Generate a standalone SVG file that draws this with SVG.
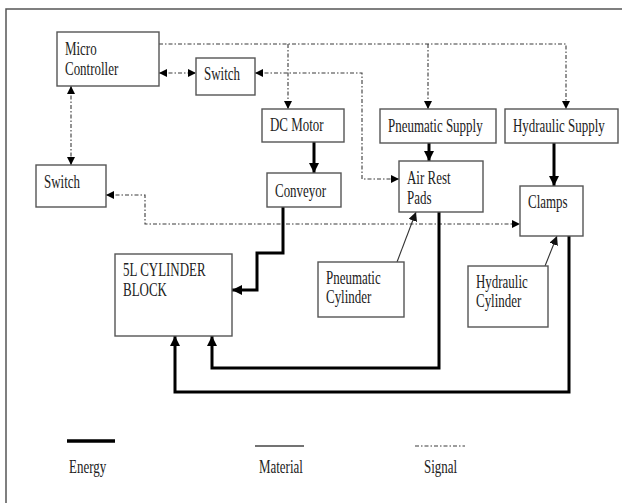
<svg xmlns="http://www.w3.org/2000/svg" width="622" height="503" viewBox="0 0 622 503">
  <style>
    .box { fill: #fff; stroke: #555; stroke-width: 1.4; }
    .lbl { font-family: "Liberation Serif", "Times New Roman", serif; font-size: 18px; fill: #222; }
    .sig { fill: none; stroke: #3a3a3a; stroke-width: 1.1; stroke-dasharray: 4 2 1.5 2; }
    .nrg { fill: none; stroke: #000; stroke-width: 3; }
    .mat { fill: none; stroke: #333; stroke-width: 1.1; }
  </style>
  <defs>
    <marker id="sigEnd" markerUnits="userSpaceOnUse" markerWidth="8" markerHeight="8" viewBox="0 0 10 10" refX="10" refY="5" orient="auto">
      <path d="M0,0 L10,5 L0,10 Z" fill="#000"/>
    </marker>
    <marker id="sigStart" markerUnits="userSpaceOnUse" markerWidth="8" markerHeight="8" viewBox="0 0 10 10" refX="0" refY="5" orient="auto">
      <path d="M10,0 L0,5 L10,10 Z" fill="#000"/>
    </marker>
    <marker id="nrgEnd" markerUnits="userSpaceOnUse" markerWidth="10" markerHeight="10" viewBox="0 0 10 10" refX="10" refY="5" orient="auto">
      <path d="M0,0 L10,5 L0,10 Z" fill="#000"/>
    </marker>
    <marker id="matEnd" markerUnits="userSpaceOnUse" markerWidth="9" markerHeight="9" viewBox="0 0 10 10" refX="10" refY="5" orient="auto">
      <path d="M0,0 L10,5 L0,10 Z" fill="#111"/>
    </marker>
  </defs>

  <rect width="622" height="503" fill="#fff"/>
  <!-- page frame -->
  <path d="M6,503 V9 H622" fill="none" stroke="#555" stroke-width="1.5"/>

  <!-- connectors -->
  <g id="connectors">
    <!-- signal -->
    <path class="sig" d="M159,44 H566 V109" marker-end="url(#sigEnd)"/>
    <path class="sig" d="M288,44 V109" marker-end="url(#sigEnd)"/>
    <path class="sig" d="M428,44 V109" marker-end="url(#sigEnd)"/>
    <path class="sig" d="M159,73 H196" marker-start="url(#sigStart)" marker-end="url(#sigEnd)"/>
    <path class="sig" d="M255,73 H362 V179 H399" marker-start="url(#sigStart)" marker-end="url(#sigEnd)"/>
    <path class="sig" d="M71,86 V165" marker-start="url(#sigStart)" marker-end="url(#sigEnd)"/>
    <path class="sig" d="M106,195 H145 V224 H520" marker-start="url(#sigStart)" marker-end="url(#sigEnd)"/>
    <!-- energy -->
    <path class="nrg" d="M314,142 V173" marker-end="url(#nrgEnd)"/>
    <path class="nrg" d="M429,143 V161" marker-end="url(#nrgEnd)"/>
    <path class="nrg" d="M554,143 V186" marker-end="url(#nrgEnd)"/>
    <path class="nrg" d="M283,207 V253 H257 V290 H232" marker-end="url(#nrgEnd)"/>
    <path class="nrg" d="M439,212 V368 H212 V336" marker-end="url(#nrgEnd)"/>
    <path class="nrg" d="M569,236 V392 H175 V336" marker-end="url(#nrgEnd)"/>
    <!-- material -->
    <path class="mat" d="M397,262 L416,212" marker-end="url(#matEnd)"/>
    <path class="mat" d="M545,266 L557,236" marker-end="url(#matEnd)"/>
  </g>

  <g id="micro-controller">
    <rect class="box" x="57" y="32" width="102" height="54"/>
    <text class="lbl" transform="translate(65,55) scale(0.72,1)">Micro</text>
    <text class="lbl" transform="translate(65,75) scale(0.72,1)">Controller</text>
  </g>
  <g id="switch-top">
    <rect class="box" x="196" y="58" width="59" height="37"/>
    <text class="lbl" transform="translate(204,80) scale(0.72,1)">Switch</text>
  </g>
  <g id="dc-motor">
    <rect class="box" x="262" y="109" width="82" height="33"/>
    <text class="lbl" transform="translate(270,131) scale(0.72,1)">DC Motor</text>
  </g>
  <g id="conveyor">
    <rect class="box" x="267" y="173" width="74" height="34"/>
    <text class="lbl" transform="translate(275,197) scale(0.72,1)">Conveyor</text>
  </g>
  <g id="switch-left">
    <rect class="box" x="36" y="165" width="70" height="42"/>
    <text class="lbl" transform="translate(44,188) scale(0.72,1)">Switch</text>
  </g>
  <g id="pneumatic-supply">
    <rect class="box" x="380" y="109" width="116" height="34"/>
    <text class="lbl" transform="translate(388,132) scale(0.72,1)">Pneumatic Supply</text>
  </g>
  <g id="hydraulic-supply">
    <rect class="box" x="505" y="109" width="113" height="34"/>
    <text class="lbl" transform="translate(513,132) scale(0.72,1)">Hydraulic Supply</text>
  </g>
  <g id="air-rest-pads">
    <rect class="box" x="399" y="161" width="84" height="51"/>
    <text class="lbl" transform="translate(407,184) scale(0.72,1)">Air Rest</text>
    <text class="lbl" transform="translate(407,204) scale(0.72,1)">Pads</text>
  </g>
  <g id="clamps">
    <rect class="box" x="520" y="186" width="63" height="50"/>
    <text class="lbl" transform="translate(528,208) scale(0.72,1)">Clamps</text>
  </g>
  <g id="cylinder-block">
    <rect class="box" x="115" y="254" width="117" height="82"/>
    <text class="lbl" transform="translate(123,276) scale(0.72,1)">5L CYLINDER</text>
    <text class="lbl" transform="translate(123,296) scale(0.72,1)">BLOCK</text>
  </g>
  <g id="pneumatic-cylinder">
    <rect class="box" x="318" y="262" width="86" height="55"/>
    <text class="lbl" transform="translate(326,284) scale(0.72,1)">Pneumatic</text>
    <text class="lbl" transform="translate(326,303) scale(0.72,1)">Cylinder</text>
  </g>
  <g id="hydraulic-cylinder">
    <rect class="box" x="468" y="266" width="80" height="61"/>
    <text class="lbl" transform="translate(476,288) scale(0.72,1)">Hydraulic</text>
    <text class="lbl" transform="translate(476,307) scale(0.72,1)">Cylinder</text>
  </g>

  <!-- legend -->
  <g id="legend">
    <path d="M67,441 H115" stroke="#000" stroke-width="3.5"/>
    <path d="M255,446 H304" stroke="#444" stroke-width="1.5"/>
    <path class="sig" d="M415,446 H465"/>
    <text class="lbl" transform="translate(69,473) scale(0.72,1)">Energy</text>
    <text class="lbl" transform="translate(259,473) scale(0.72,1)">Material</text>
    <text class="lbl" transform="translate(424,473) scale(0.72,1)">Signal</text>
  </g>
</svg>
